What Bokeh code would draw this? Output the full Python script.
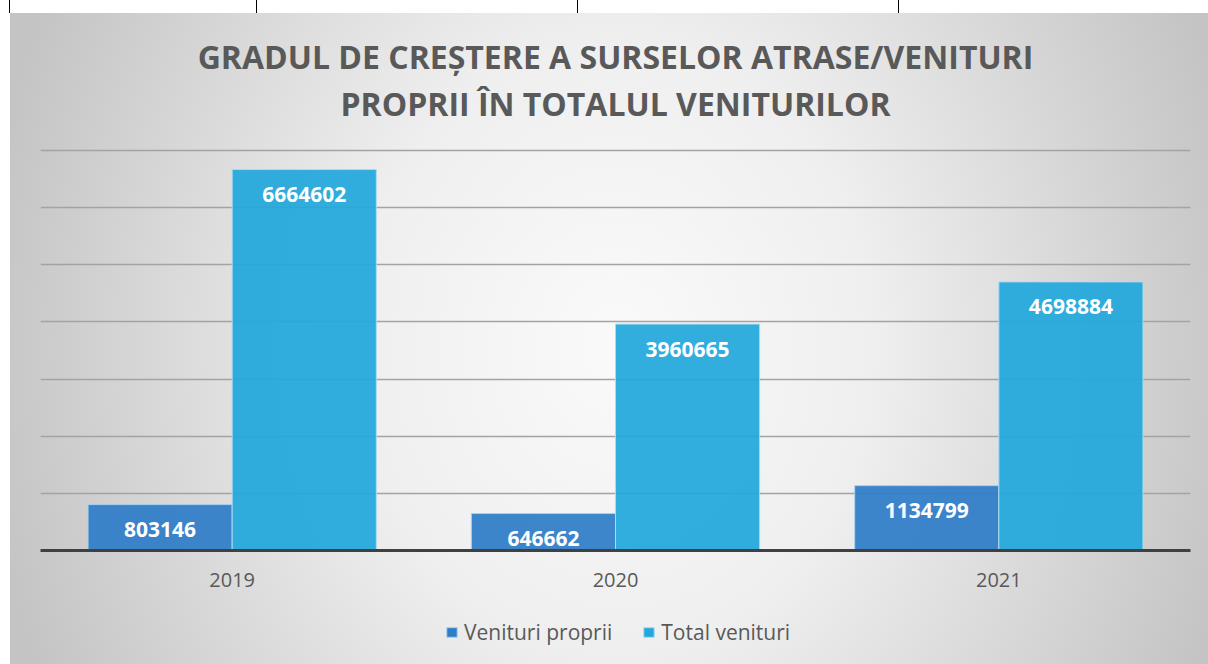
from bokeh.plotting import figure
from bokeh.layouts import column
from bokeh.models import (FactorRange, Range1d, FixedTicker, Legend, LegendItem,
                          Title, ColumnDataSource)
from bokeh.transform import dodge
from bokeh.core.properties import value
from bokeh.embed import file_html
from bokeh.resources import INLINE

years = ["2019", "2020", "2021"]
venituri_proprii = [803146, 646662, 1134799]
total_venituri = [6664602, 3960665, 4698884]
series_names = ["Venituri proprii", "Total venituri"]
title_lines = ["GRADUL DE CREȘTERE A SURSELOR ATRASE/VENITURI",
               "PROPRII ÎN TOTALUL VENITURILOR"]
y_ticks = [0, 1000000, 2000000, 3000000, 4000000, 5000000, 6000000, 7000000]

FONT = "Open Sans"
TXT = "#595959"
C1 = "#2E7DC7"
C2 = "#22A8DC"
E1 = "#a9d0f0"
E2 = "#a9dcf2"

src = ColumnDataSource(dict(
    years=years,
    vp=venituri_proprii,
    tv=total_venituri,
    vp_lbl=[str(v) for v in venituri_proprii],
    tv_lbl=[str(v) for v in total_venituri],
))

p = figure(width=1208, height=600,
           x_range=FactorRange(*years, range_padding=0, factor_padding=0),
           y_range=Range1d(0, 7050000),
           output_backend="svg", toolbar_location=None,
           min_border_left=40, min_border_right=18,
           min_border_top=147, min_border_bottom=50)
p.background_fill_alpha = 0
p.border_fill_alpha = 0
p.outline_line_color = None

W = 0.376
r1 = p.vbar(x=dodge("years", -W / 2, range=p.x_range), top="vp", width=W, source=src,
            fill_color=C1, fill_alpha=0.93, line_color=E1, line_width=1)
r2 = p.vbar(x=dodge("years", W / 2, range=p.x_range), top="tv", width=W, source=src,
            fill_color=C2, fill_alpha=0.93, line_color=E2, line_width=1)

for col, lbl, off in (("vp", "vp_lbl", -W / 2), ("tv", "tv_lbl", W / 2)):
    p.text(x=dodge("years", off, range=p.x_range), y=col, text=lbl, source=src,
           text_color="white", text_font=value(FONT), text_font_style="bold",
           text_font_size="21px", text_align="center", text_baseline="middle",
           y_offset=25)

p.yaxis.visible = False
p.xgrid.grid_line_color = None
p.ygrid.ticker = FixedTicker(ticks=y_ticks)
p.ygrid.grid_line_color = "#a3a3a3"
p.ygrid.grid_line_width = 1.5

xa = p.xaxis[0]
xa.axis_line_color = "#404040"
xa.axis_line_width = 3
xa.major_tick_line_color = None
xa.minor_tick_line_color = None
xa.major_label_text_font = FONT
xa.major_label_text_font_size = "20px"
xa.major_label_text_color = TXT
xa.major_label_standoff = 16

p.add_layout(Title(text=title_lines[1], align="center", text_font=FONT,
                   text_font_size="32px", text_font_style="bold",
                   text_color=TXT, standoff=46), "above")
p.add_layout(Title(text=title_lines[0], align="center", text_font=FONT,
                   text_font_size="32px", text_font_style="bold",
                   text_color=TXT, standoff=-42), "above")

# legend strip below the chart (its renderers are hidden; only the legend shows)
q = figure(width=1208, height=64,
           x_range=FactorRange(*years), y_range=Range1d(0, 7050000),
           output_backend="svg", toolbar_location=None,
           x_axis_location=None, y_axis_location=None,
           min_border=0, min_border_left=0, min_border_right=0,
           min_border_top=0, min_border_bottom=0)
q.background_fill_alpha = 0
q.border_fill_alpha = 0
q.outline_line_color = None
q.grid.visible = False
l1 = q.vbar(x="years", top="vp", width=W, source=src, fill_color=C1,
            line_color=E1, line_width=1, visible=False)
l2 = q.vbar(x="years", top="tv", width=W, source=src, fill_color=C2,
            line_color=E2, line_width=1, visible=False)
legend = Legend(items=[LegendItem(label=series_names[0], renderers=[l1]),
                       LegendItem(label=series_names[1], renderers=[l2])],
                orientation="horizontal", location=(405, 18),
                border_line_color=None, background_fill_alpha=0,
                inactive_fill_alpha=0,
                label_text_font=FONT, label_text_font_size="21px",
                label_text_color=TXT, glyph_width=13, glyph_height=12,
                label_standoff=6, spacing=30, margin=0, padding=6)
q.add_layout(legend, "center")

layout = column(p, q, spacing=0)
layout.styles = {
    "background": (
        "linear-gradient(#000,#000) 9px 0 / 1px 13px no-repeat, "
        "linear-gradient(#000,#000) 256px 0 / 1px 13px no-repeat, "
        "linear-gradient(#000,#000) 577px 0 / 1px 13px no-repeat, "
        "linear-gradient(#000,#000) 898px 0 / 1px 13px no-repeat, "
        "linear-gradient(#fff,#fff) 0 0 / 100% 13px no-repeat, "
        "linear-gradient(#fff,#fff) 0 0 / 10px 100% no-repeat, "
        "radial-gradient(ellipse 640px 760px at 51% 52%, #fafafa 0%, #efefef 40%, #c4c4c4 100%)"
    )
}

open("out.html", "w").write(file_html(layout, INLINE))
